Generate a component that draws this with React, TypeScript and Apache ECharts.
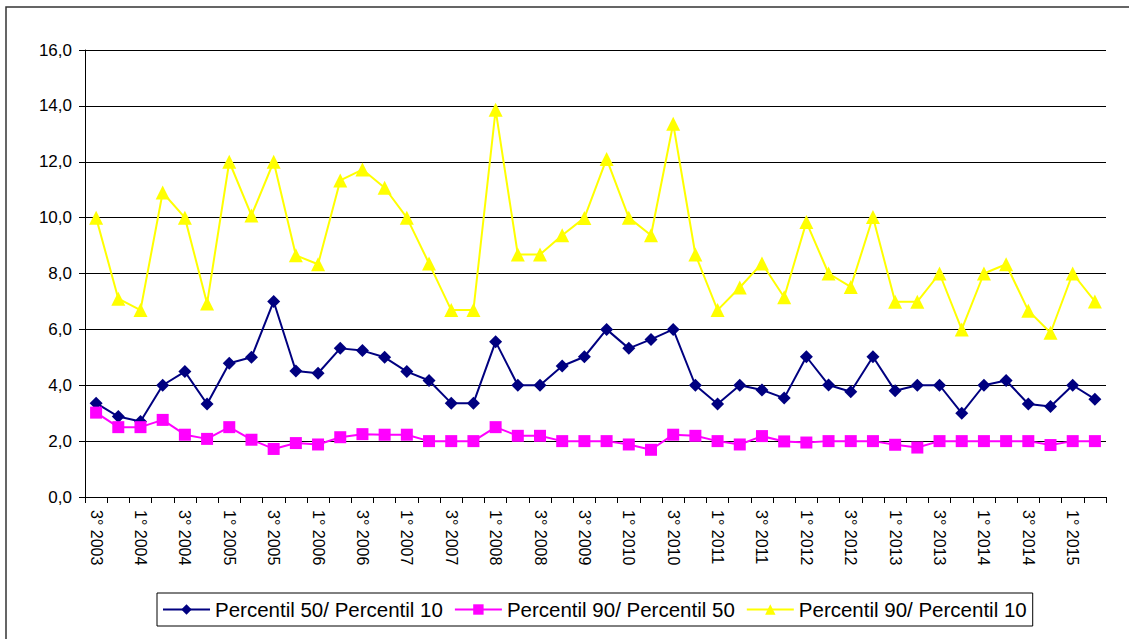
import React, { useEffect, useRef } from "react";
import * as echarts from "echarts";

const categories: string[] = [
  "3° 2003", "4° 2003", "1° 2004", "2° 2004", "3° 2004", "4° 2004", "1° 2005", "2° 2005",
  "3° 2005", "4° 2005", "1° 2006", "2° 2006", "3° 2006", "4° 2006", "1° 2007", "2° 2007",
  "3° 2007", "4° 2007", "1° 2008", "2° 2008", "3° 2008", "1° 2009", "3° 2009", "4° 2009",
  "1° 2010", "2° 2010", "3° 2010", "4° 2010", "1° 2011", "2° 2011", "3° 2011", "4° 2011",
  "1° 2012", "2° 2012", "3° 2012", "4° 2012", "1° 2013", "2° 2013", "3° 2013", "4° 2013",
  "1° 2014", "2° 2014", "3° 2014", "4° 2014", "1° 2015", "2° 2015",
];

const p50p10: number[] = [
  3.36, 2.88, 2.7, 4.0, 4.49, 3.33, 4.79, 5.0, 7.0, 4.51, 4.43, 5.32, 5.24, 5.0, 4.49, 4.17,
  3.36, 3.36, 5.56, 4.0, 4.0, 4.69, 5.02, 6.0, 5.32, 5.64, 6.0, 4.0, 3.33, 4.0, 3.83, 3.54,
  5.02, 4.01, 3.77, 5.02, 3.8, 4.0, 4.0, 3.0, 4.0, 4.17, 3.33, 3.24, 4.0, 3.5,
];

const p90p50: number[] = [
  3.02, 2.5, 2.5, 2.76, 2.23, 2.08, 2.5, 2.05, 1.72, 1.93, 1.88, 2.14, 2.25, 2.23, 2.23, 2.0,
  2.0, 2.0, 2.5, 2.19, 2.19, 2.0, 2.0, 2.0, 1.88, 1.69, 2.23, 2.19, 2.0, 1.88, 2.18, 1.99,
  1.95, 2.0, 2.0, 2.0, 1.87, 1.77, 2.0, 2.0, 2.0, 2.0, 2.0, 1.86, 2.0, 2.0,
];

const p90p10: number[] = [
  10.0, 7.1, 6.69, 10.9, 10.0, 6.93, 12.0, 10.08, 12.0, 8.65, 8.33, 11.33, 11.72, 11.07, 10.0, 8.36,
  6.69, 6.69, 13.86, 8.68, 8.68, 9.37, 9.99, 12.1, 10.0, 9.37, 13.36, 8.68, 6.69, 7.5, 8.36, 7.15,
  9.84, 8.0, 7.52, 10.02, 6.99, 6.99, 8.0, 6.0, 8.0, 8.33, 6.67, 5.88, 8.0, 7.0,
];

const seriesNames: string[] = [
  "Percentil 50/ Percentil 10",
  "Percentil 90/ Percentil 50",
  "Percentil 90/ Percentil 10",
];

export default function App() {
  const ref = useRef<HTMLDivElement>(null);
  useEffect(() => {
    if (!ref.current) return;
    const chart = echarts.init(ref.current, undefined, { renderer: "svg" });
    const font = "Liberation Sans, Arial, sans-serif";
    chart.setOption({
      animation: false,
      backgroundColor: "#ffffff",
      graphic: [
        {
          type: "rect",
          shape: { x: 6, y: 7, width: 1200, height: 700 },
          style: { fill: "none", stroke: "#333", lineWidth: 1.5 },
          silent: true,
        },
      ],
      grid: { left: 85, right: 23, top: 50, bottom: 142, containLabel: false },
      legend: {
        left: 157,
        top: 593,
        orient: "horizontal",
        data: seriesNames,
        itemWidth: 47,
        itemHeight: 13,
        itemGap: 11,
        padding: [6, 6, 6, 5],
        borderColor: "#000",
        borderWidth: 1,
        textStyle: { fontFamily: font, fontSize: 20.5, color: "#000" },
      },
      xAxis: {
        type: "category",
        data: categories,
        boundaryGap: true,
        axisLine: { lineStyle: { color: "#000", width: 1 } },
        axisTick: { show: true, interval: 0, length: 6, lineStyle: { color: "#000" } },
        axisLabel: {
          interval: 1,
          rotate: -90,
          margin: 13,
          fontFamily: font,
          fontSize: 16,
          color: "#000",
        },
        splitLine: { show: false },
      },
      yAxis: {
        type: "value",
        min: 0,
        max: 16,
        interval: 2,
        axisLine: { show: true, lineStyle: { color: "#000", width: 1 } },
        axisTick: { show: true, length: 6, lineStyle: { color: "#000" } },
        axisLabel: {
          margin: 13,
          fontFamily: font,
          fontSize: 17,
          color: "#000",
          formatter: (v: number) => v.toFixed(1).replace(".", ","),
        },
        splitLine: { show: true, lineStyle: { color: "#000", width: 1 } },
      },
      series: [
        {
          name: seriesNames[0],
          type: "line",
          data: p50p10,
          symbol: "diamond",
          symbolSize: 13,
          lineStyle: { color: "#000080", width: 2 },
          itemStyle: { color: "#000080" },
        },
        {
          name: seriesNames[1],
          type: "line",
          data: p90p50,
          symbol: "rect",
          symbolSize: 12,
          lineStyle: { color: "#FF00FF", width: 2 },
          itemStyle: { color: "#FF00FF" },
        },
        {
          name: seriesNames[2],
          type: "line",
          data: p90p10,
          symbol: "triangle",
          symbolSize: 14,
          lineStyle: { color: "#FFFF00", width: 2 },
          itemStyle: { color: "#FFFF00" },
        },
      ],
    });
    return () => chart.dispose();
  }, []);
  return (
    <div
      ref={ref}
      style={{ position: "fixed", left: 0, top: 0, width: 1129, height: 639, background: "#fff" }}
    />
  );
}
